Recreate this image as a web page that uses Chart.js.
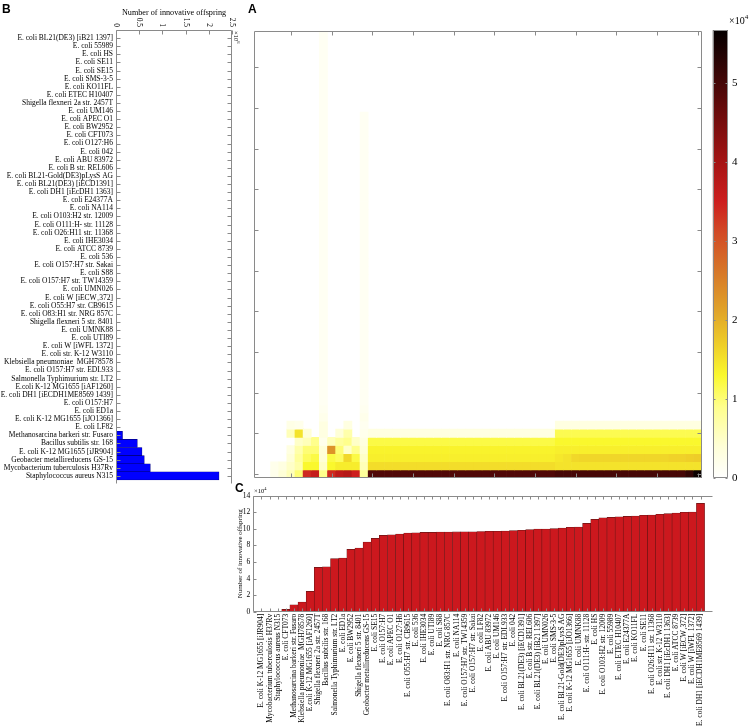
<!DOCTYPE html>
<html>
<head>
<meta charset="utf-8">
<script src="https://cdn.jsdelivr.net/npm/chart.js@4.4.1/dist/chart.umd.min.js"></script>
<style>
	html, body { margin: 0; padding: 0; background: #fff; }
	#wrap { position: relative; width: 756px; height: 728px; overflow: hidden; background: #fff; }
	#wrap canvas { position: absolute; left: 0; top: 0; }
</style>
</head>
<body>
<div id="wrap">
	<canvas id="panel-b" width="756" height="728"></canvas>
	<canvas id="panel-a" width="756" height="728"></canvas>
	<canvas id="colorbar" width="756" height="728"></canvas>
	<canvas id="panel-c" width="756" height="728"></canvas>
</div>
<script>
// ---- panel B: organisms (top to bottom) and offspring count (x10^6)
const orgNamesB = [
	'E. coli BL21(DE3) [iB21 1397]', 'E. coli 55989', 'E. coli HS', 'E. coli SE11', 'E. coli SE15',
	'E. coli SMS-3-5', 'E. coli KO11FL', 'E. coli ETEC H10407', 'Shigella flexneri 2a str. 2457T', 'E. coli UM146',
	'E. coli APEC O1', 'E. coli BW2952', 'E. coli CFT073', 'E. coli O127:H6', 'E. coli 042',
	'E. coli ABU 83972', 'E. coli B str. REL606', 'E. coli BL21-Gold(DE3)pLysS AG', 'E. coli BL21(DE3) [iECD1391]', 'E. coli DH1 [iEcDH1 1363]',
	'E. coli E24377A', 'E. coli NA114', 'E. coli O103:H2 str. 12009', 'E. coli O111:H- str. 11128', 'E. coli O26:H11 str. 11368',
	'E. coli IHE3034', 'E. coli ATCC 8739', 'E. coli 536', 'E. coli O157:H7 str. Sakai', 'E. coli S88',
	'E. coli O157:H7 str. TW14359', 'E. coli UMN026', 'E. coli W [iECW\u2081372]', 'E. coli O55:H7 str. CB9615', 'E. coli O83:H1 str. NRG 857C',
	'Shigella flexneri 5 str. 8401', 'E. coli UMNK88', 'E. coli UTI89', 'E. coli W [iWFL 1372]', 'E. coli str. K-12 W3110',
	'Klebsiella pneumoniae  MGH78578', 'E. coli O157:H7 str. EDL933', 'Salmonella Typhimurium str. LT2', 'E.coli K-12 MG1655 [iAF1260]', 'E. coli DH1 [iECDH1ME8569 1439]',
	'E. coli O157:H7', 'E. coli ED1a', 'E. coli K-12 MG1655 [iJO1366]', 'E. coli LF82', 'Methanosarcina barkeri str. Fusaro',
	'Bacillus subtilis str. 168', 'E. coli K-12 MG1655 [iJR904]', 'Geobacter metallireducens GS-15', 'Mycobacterium tuberculosis H37Rv', 'Staphylococcus aureus N315'
];
const offspringB = [
	0, 0, 0, 0, 0, 0, 0, 0, 0, 0,
	0, 0, 0, 0, 0, 0, 0, 0, 0, 0,
	0, 0, 0, 0, 0, 0, 0, 0, 0, 0,
	0, 0, 0, 0, 0, 0, 0, 0, 0, 0,
	0, 0, 0, 0, 0, 0, 0, 0, 0, 0.14,
	0.46, 0.56, 0.61, 0.74, 2.22
];
const bTickValues = [0, 0.5, 1, 1.5, 2, 2.5];
const bTickLabels = ['0', '0.5', '1', '1.5', '2', '2.5'];

// ---- panel C: organisms (left to right) and offspring count (x10^4)
const orgNamesC = [
	'E. coli K-12 MG1655 [iJR904]', 'Mycobacterium tuberculosis H37Rv', 'Staphylococcus aureus N315', 'E. coli CFT073', 'Methanosarcina barkeri str. Fusaro',
	'Klebsiella pneumoniae  MGH78578', 'E.coli K-12 MG1655 [iAF1260]', 'Shigella flexneri 2a str. 2457T', 'Bacillus subtilis str. 168', 'Salmonella Typhimurium str. LT2',
	'E. coli ED1a', 'E. coli BW2952', 'Shigella flexneri 5 str. 8401', 'Geobacter metallireducens GS-15', 'E. coli SE15',
	'E. coli O157:H7', 'E. coli APEC O1', 'E. coli O127:H6', 'E. coli O55:H7 str. CB9615', 'E. coli 536',
	'E. coli IHE3034', 'E. coli UTI89', 'E. coli S88', 'E. coli O83:H1 str. NRG 857C', 'E. coli NA114',
	'E. coli O157:H7 str. TW14359', 'E. coli O157:H7 str. Sakai', 'E. coli LF82', 'E. coli ABU 83972', 'E. coli UM146',
	'E. coli O157:H7 str. EDL933', 'E. coli 042', 'E. coli BL21(DE3) [iECD1391]', 'E. coli B str. REL606', 'E. coli BL21(DE3) [iB21 1397]',
	'E. coli UMN026', 'E. coli SMS-3-5', 'E. coli BL21-Gold(DE3)pLysS AG', 'E. coli K-12 MG1655 [iJO1366]', 'E. coli UMNK88',
	'E. coli O111:H- str. 11128', 'E. coli HS', 'E. coli O103:H2 str. 12009', 'E. coli 55989', 'E. coli ETEC H10407',
	'E. coli E24377A', 'E. coli KO11FL', 'E. coli SE11', 'E. coli O26:H11 str. 11368', 'E. coli str. K-12 W3110',
	'E. coli DH1 [iEcDH1 1363]', 'E. coli ATCC 8739', 'E. coli W [iECW\u2081372]', 'E. coli W [iWFL 1372]', 'E. coli DH1 [iECDH1ME8569 1439]'
];
const offspringC = [
	0, 0, 0, 0.28, 0.84, 1.17, 2.45, 5.35, 5.43, 6.4,
	6.48, 7.52, 7.68, 8.41, 8.85, 9.21, 9.29, 9.37, 9.49, 9.53,
	9.57, 9.57, 9.61, 9.61, 9.63, 9.65, 9.65, 9.67, 9.7, 9.7,
	9.74, 9.78, 9.82, 9.9, 9.98, 9.98, 10.02, 10.1, 10.18, 10.22,
	10.66, 11.14, 11.34, 11.38, 11.46, 11.5, 11.55, 11.63, 11.67, 11.75,
	11.83, 11.91, 11.99, 12.03, 13.07
];
const cTickValues = [0, 2, 4, 6, 8, 10, 12, 14];

// ---- panel A: heat map (x10^4), columns follow orgNamesC, rows 1..55 top to bottom
const heatTicks = [5, 10, 15, 20, 25, 30, 35, 40, 45, 50, 55];
const colorbarTicks = [0, 1, 2, 3, 4, 5];
const colorbarMax = 5.67;
// faint streaks, rows 1..48
const heatStreak9 = [
	0.12, 0.12, 0.12, 0.12, 0.12, 0.12, 0.12, 0.12, 0.12, 0.12,
	0.12, 0.12, 0.12, 0.12, 0.12, 0.12, 0.12, 0.12, 0.12, 0.12,
	0.12, 0.12, 0.12, 0.12, 0.12, 0.12, 0.12, 0.12, 0.12, 0.12,
	0.12, 0.12, 0.12, 0.12, 0.12, 0.12, 0.12, 0.12, 0.12, 0.12,
	0.12, 0.12, 0.12, 0.12, 0.12, 0.12, 0.15, 0.2
];
const heatStreak14 = [
	0, 0, 0, 0, 0, 0, 0, 0, 0, 0,
	0.12, 0.12, 0.12, 0.12, 0.12, 0.12, 0.12, 0.12, 0.12, 0.12,
	0.12, 0.12, 0.12, 0.12, 0.12, 0.12, 0.12, 0.12, 0.12, 0.12,
	0.12, 0.12, 0.12, 0.12, 0.12, 0.12, 0.12, 0.12, 0.12, 0.12,
	0.12, 0.12, 0.12, 0.12, 0.12, 0.12, 0.15, 0.2
];
// bottom rows 49..55
const heatRow49 = [
	0, 0, 0, 0, 0.25, 0.2, 0, 0, 0.3, 0, 0, 0.3, 0, 0.15,
	0, 0, 0, 0, 0, 0, 0, 0, 0, 0, 0, 0, 0, 0, 0, 0, 0, 0, 0, 0, 0, 0, 0,
	0.3, 0.3, 0.3, 0.3, 0.3, 0.3, 0.3, 0.3, 0.3, 0.3, 0.3, 0.3, 0.3, 0.3, 0.3, 0.3, 0.3, 0.3
];
const heatRow50 = [
	0, 0, 0, 0, 0.6, 1.5, 0.4, 0, 0.3, 0, 0.4, 0.7, 0, 0.2,
	0.3, 0.3, 0.3, 0.3, 0.3, 0.3, 0.3, 0.3, 0.3, 0.3, 0.3, 0.3, 0.3, 0.3, 0.3, 0.3, 0.3, 0.3, 0.3, 0.3, 0.3, 0.3, 0.3,
	1.15, 1.15, 1.15, 1.15, 1.15, 1.15, 1.15, 1.15, 1.15, 1.15, 1.15, 1.15, 1.15, 1.15, 1.15, 1.15, 1.15, 1.15
];
const heatRow51 = [
	0, 0, 0, 0, 0, 0.5, 0.6, 0.9, 0.2, 0.6, 0.8, 0.9, 0.5, 0.3,
	1.2, 1.2, 1.2, 1.2, 1.2, 1.2, 1.2, 1.2, 1.2, 1.2, 1.2, 1.2, 1.2, 1.2, 1.2, 1.2, 1.2, 1.2, 1.2, 1.2, 1.2, 1.2, 1.2,
	1.3, 1.3, 1.3, 1.3, 1.3, 1.3, 1.3, 1.3, 1.3, 1.3, 1.3, 1.3, 1.3, 1.3, 1.3, 1.3, 1.3, 1.3
];
const heatRow52 = [
	0, 0, 0, 0, 0.3, 0.7, 1.0, 1.0, 0.4, 2.3, 1.0, 0.5, 0.9, 0.4,
	1.35, 1.35, 1.35, 1.35, 1.35, 1.35, 1.35, 1.35, 1.35, 1.35, 1.35, 1.35, 1.35, 1.35, 1.35, 1.35, 1.35, 1.35, 1.35, 1.35, 1.35, 1.35, 1.35,
	1.38, 1.38, 1.38, 1.38, 1.38, 1.38, 1.38, 1.38, 1.38, 1.38, 1.38, 1.38, 1.38, 1.38, 1.38, 1.38, 1.38, 1.38
];
const heatRow53 = [
	0, 0, 0, 0, 0.4, 0.8, 1.1, 1.2, 0.4, 1.2, 1.1, 1.6, 1.2, 0.5,
	1.38, 1.38, 1.38, 1.38, 1.38, 1.38, 1.38, 1.38, 1.38, 1.38, 1.38, 1.38, 1.38, 1.38, 1.38, 1.38, 1.38, 1.38, 1.38, 1.38, 1.38, 1.38, 1.38,
	1.45, 1.5, 1.6, 1.62, 1.62, 1.62, 1.62, 1.62, 1.62, 1.62, 1.62, 1.62, 1.62, 1.62, 1.65, 1.65, 1.68, 1.7
];
const heatRow54 = [
	0, 0, 0.2, 0.3, 0.5, 0.7, 1.3, 1.3, 0.5, 1.3, 1.4, 1.4, 1.4, 0.6,
	1.55, 1.55, 1.55, 1.55, 1.55, 1.55, 1.55, 1.55, 1.55, 1.55, 1.55, 1.55, 1.55, 1.55, 1.55, 1.55, 1.55, 1.55, 1.55, 1.55, 1.55, 1.55, 1.55,
	1.5, 1.5, 1.5, 1.5, 1.5, 1.5, 1.5, 1.5, 1.5, 1.5, 1.5, 1.5, 1.5, 1.5, 1.5, 1.5, 1.5, 1.5
];
const heatRow55 = [
	0, 0, 0.2, 0.4, 0.6, 1.0, 3.4, 3.6, 0.9, 3.4, 3.7, 3.8, 3.5, 0.8,
	4.9, 4.9, 4.9, 4.9, 4.9, 4.9, 4.9, 4.9, 4.9, 4.9, 4.9, 4.9, 4.9, 4.9, 4.9, 4.9, 4.9, 4.9, 4.9, 4.9, 4.9, 4.9, 4.9,
	5.0, 5.0, 5.0, 5.0, 5.0, 5.0, 5.0, 5.0, 5.0, 5.0, 5.0, 5.0, 5.0, 5.0, 5.0, 5.0, 5.2, 5.6
];

// colour map: white - yellow - orange - red - black
const heatStops = [
	[0, [255, 255, 255]], [0.4, [255, 255, 215]], [0.9, [255, 255, 140]], [1.3, [250, 248, 45]],
	[1.7, [238, 205, 40]], [2.1, [225, 165, 40]], [2.6, [215, 120, 40]], [3.1, [210, 75, 38]],
	[3.5, [205, 30, 30]], [4.0, [165, 20, 20]], [4.6, [110, 12, 12]], [5.1, [60, 6, 6]], [5.67, [5, 0, 0]]
];

function heatColor(v) {
	if (v <= heatStops[0][0]) return `rgb(${heatStops[0][1].join(',')})`;
	for (let i = 1; i < heatStops.length; i++) {
		const [v1, c1] = heatStops[i];
		const [v0, c0] = heatStops[i - 1];
		if (v <= v1) {
			const t = (v - v0) / (v1 - v0);
			const c = c0.map((a, k) => Math.round(a + (c1[k] - a) * t));
			return `rgb(${c.join(',')})`;
		}
	}
	return `rgb(${heatStops[heatStops.length - 1][1].join(',')})`;
}

const heatMatrix = [];
for (let r = 0; r < 48; r++) {
	const row = new Array(55).fill(0);
	row[8] = heatStreak9[r];
	row[13] = heatStreak14[r];
	heatMatrix.push(row);
}
[heatRow49, heatRow50, heatRow51, heatRow52, heatRow53, heatRow54, heatRow55].forEach((row) => heatMatrix.push(row));

Chart.defaults.font.family = "'Liberation Serif', 'Times New Roman', serif";
Chart.defaults.color = '#000';
Chart.defaults.animation = false;

const axisGray = '#8a8a8a';
const serif = "'Liberation Serif', serif";

// MATLAB-ish box with inward ticks (and optional hand-placed rotated x labels)
const matlabAxes = {
	id: 'matlabAxes',
	afterDraw(chart, args, opts) {
		const { ctx, chartArea: a, scales } = chart;
		const len = opts.len || 4;
		ctx.save();
		ctx.strokeStyle = opts.color || axisGray;
		ctx.lineWidth = 1;
		ctx.beginPath();
		const L = Math.round(a.left) + 0.5, R = Math.round(a.right) - 0.5;
		const T = Math.round(a.top) + 0.5, B = Math.round(a.bottom) - 0.5;
		const box = opts.box || [];
		if (box.includes('top')) { ctx.moveTo(L, T); ctx.lineTo(R, T); }
		if (box.includes('bottom')) { ctx.moveTo(L, B); ctx.lineTo(R, B); }
		if (box.includes('left')) { ctx.moveTo(L, T); ctx.lineTo(L, B); }
		if (box.includes('right')) { ctx.moveTo(R, T); ctx.lineTo(R, B); }
		if (opts.xTicks) {
			opts.xTicks.values.forEach((v) => {
				const px = Math.round(scales.x.getPixelForValue(v)) + 0.5;
				if (opts.xTicks.edges.includes('top')) { ctx.moveTo(px, T); ctx.lineTo(px, T + len); }
				if (opts.xTicks.edges.includes('bottom')) { ctx.moveTo(px, B); ctx.lineTo(px, B - len); }
			});
		}
		if (opts.yTicks) {
			opts.yTicks.values.forEach((v) => {
				const py = Math.round(scales.y.getPixelForValue(v)) + 0.5;
				if (opts.yTicks.edges.includes('left')) { ctx.moveTo(L, py); ctx.lineTo(L + len, py); }
				if (opts.yTicks.edges.includes('right')) { ctx.moveTo(R, py); ctx.lineTo(R - len, py); }
			});
		}
		ctx.stroke();
		if (opts.xLabels) {
			// labels above the top edge, turned a quarter clockwise
			ctx.fillStyle = '#000';
			ctx.font = opts.xLabels.font;
			ctx.textAlign = 'right';
			ctx.textBaseline = 'middle';
			opts.xLabels.values.forEach((v, i) => {
				ctx.save();
				ctx.translate(scales.x.getPixelForValue(v), a.top - opts.xLabels.gap);
				ctx.rotate(Math.PI / 2);
				ctx.fillText(opts.xLabels.labels[i], 0, 0);
				ctx.restore();
			});
		}
		ctx.restore();
	}
};

// free text: panel letters and exponent labels
const notes = {
	id: 'notes',
	afterDraw(chart, args, opts) {
		const ctx = chart.ctx;
		(opts.items || []).forEach((n) => {
			ctx.save();
			ctx.translate(n.x, n.y);
			if (n.rotate) ctx.rotate(n.rotate);
			ctx.fillStyle = '#000';
			ctx.textBaseline = 'alphabetic';
			ctx.textAlign = 'left';
			let x = 0;
			n.parts.forEach((p) => {
				ctx.font = p.font;
				ctx.fillText(p.text, x, p.dy || 0);
				x += ctx.measureText(p.text).width;
			});
			ctx.restore();
		});
	}
};

const noLegend = { legend: { display: false }, tooltip: { enabled: false } };
const letterFont = "bold 12px 'Liberation Sans', Arial, sans-serif";

// ---- panel B
new Chart(document.getElementById('panel-b'), {
	type: 'bar',
	data: {
		datasets: [{
			data: offspringB.map((v, i) => ({ x: v, y: i + 1 })),
			backgroundColor: '#0000ff',
			borderColor: '#000080',
			borderWidth: 0.6,
			barPercentage: 1,
			categoryPercentage: 1,
		}]
	},
	options: {
		indexAxis: 'y',
		responsive: false,
		layout: { padding: { left: 0, top: 0, right: 524, bottom: 244 } },
		scales: {
			x: {
				type: 'linear',
				position: 'top',
				min: 0,
				max: 2.5,
				afterBuildTicks: (s) => { s.ticks = bTickValues.map((v) => ({ value: v })); },
				afterFit: (s) => { s.height = 30; },
				ticks: { display: false },
				grid: { display: false, drawTicks: false },
				border: { display: false },
				title: { display: true, text: 'Number of innovative offspring', font: { size: 8.2 }, padding: { top: 8, bottom: 0 } },
			},
			y: {
				type: 'linear',
				offset: false,
				min: 0,
				max: 56,
				reverse: true,
				afterBuildTicks: (s) => { s.ticks = orgNamesB.map((n, i) => ({ value: i + 1 })); },
				afterFit: (s) => { s.width = 116; },
				ticks: { callback: (v, i) => orgNamesB[i], padding: 3, font: { size: 7.5 }, autoSkip: false },
				grid: { display: false, drawTicks: false },
				border: { display: false },
			}
		},
		plugins: {
			...noLegend,
			matlabAxes: {
				box: ['top', 'left', 'right'],
				len: 4,
				xTicks: { values: bTickValues, edges: ['top'] },
				yTicks: { values: orgNamesB.map((n, i) => i + 1), edges: ['left', 'right'] },
				xLabels: { values: bTickValues, labels: bTickLabels, font: `7.5px ${serif}`, gap: 3 },
			},
			notes: {
				items: [
					{ x: 2, y: 13, parts: [{ text: 'B', font: letterFont }] },
					{ x: 248, y: 13, parts: [{ text: 'A', font: letterFont }] },
					{ x: 235, y: 492, parts: [{ text: 'C', font: letterFont }] },
					{ x: 234, y: 31, rotate: Math.PI / 2, parts: [{ text: '\u00d710', font: `6.5px ${serif}` }, { text: '6', font: `4.5px ${serif}`, dy: -3 }] },
				]
			}
		}
	},
	plugins: [matlabAxes, notes]
});

// ---- panel A (heat map as floating bars)
new Chart(document.getElementById('panel-a'), {
	type: 'bar',
	data: {
		datasets: heatMatrix.map((row, r) => ({
			data: row.map((v, c) => ({ x: c + 1, y: [r + 0.5, r + 1.5], v: v })).filter((p) => p.v > 0),
			backgroundColor: (ctx) => heatColor(ctx.raw ? ctx.raw.v : 0),
			borderWidth: 0,
			barPercentage: 1,
			categoryPercentage: 1,
			grouped: false,
		}))
	},
	options: {
		responsive: false,
		layout: { padding: { left: 254.3, top: 30.7, right: 54.3, bottom: 250 } },
		scales: {
			x: { type: 'linear', offset: false, min: 0.5, max: 55.5, display: false },
			y: { type: 'linear', min: 0.5, max: 55.5, reverse: true, display: false },
		},
		plugins: {
			...noLegend,
			matlabAxes: {
				box: ['top', 'bottom', 'left', 'right'],
				len: 4,
				xTicks: { values: heatTicks, edges: ['top', 'bottom'] },
				yTicks: { values: heatTicks, edges: ['left', 'right'] },
			}
		}
	},
	plugins: [matlabAxes]
});

// ---- colour bar
new Chart(document.getElementById('colorbar'), {
	type: 'bar',
	data: {
		labels: ['scale'],
		datasets: [{
			data: [[0, colorbarMax]],
			backgroundColor: (ctx) => {
				const chart = ctx.chart;
				if (!chart.chartArea || !chart.scales.y) return '#fff';
				const ys = chart.scales.y;
				const g = chart.ctx.createLinearGradient(0, ys.getPixelForValue(0), 0, ys.getPixelForValue(colorbarMax));
				heatStops.forEach(([v]) => g.addColorStop(v / colorbarMax, heatColor(v)));
				return g;
			},
			borderWidth: 0,
			barPercentage: 1,
			categoryPercentage: 1,
		}]
	},
	options: {
		responsive: false,
		layout: { padding: { left: 712.7, top: 30.3, right: 0, bottom: 250 } },
		scales: {
			x: { display: false },
			y: {
				position: 'right',
				min: 0,
				max: colorbarMax,
				afterBuildTicks: (s) => { s.ticks = colorbarTicks.map((v) => ({ value: v })); },
				afterFit: (s) => { s.width = 28; },
				ticks: { padding: 4, font: { size: 11 } },
				grid: { display: false, drawTicks: false },
				border: { display: false },
			}
		},
		plugins: {
			...noLegend,
			matlabAxes: {
				box: ['top', 'bottom', 'left', 'right'],
				len: 2,
				yTicks: { values: colorbarTicks, edges: ['left', 'right'] },
			},
			notes: {
				items: [
					{ x: 729, y: 24, parts: [{ text: '\u00d710', font: `10px ${serif}` }, { text: '4', font: `7px ${serif}`, dy: -5 }] },
				]
			}
		}
	},
	plugins: [matlabAxes, notes]
});

// ---- panel C
new Chart(document.getElementById('panel-c'), {
	type: 'bar',
	data: {
		datasets: [{
			data: offspringC.map((v, i) => ({ x: i + 1, y: v })),
			backgroundColor: '#cc181e',
			borderColor: '#6a1414',
			borderWidth: 0.6,
			barPercentage: 1,
			categoryPercentage: 1,
		}]
	},
	options: {
		responsive: false,
		layout: { padding: { left: 236, top: 495.7, right: 43.3, bottom: 0 } },
		scales: {
			x: {
				type: 'linear',
				offset: false,
				min: 0,
				max: 56.5,
				afterBuildTicks: (s) => { s.ticks = orgNamesC.map((n, i) => ({ value: i + 1 })); },
				afterFit: (s) => { s.height = 116.3; },
				ticks: { callback: (v, i) => orgNamesC[i], minRotation: 90, maxRotation: 90, padding: 2, font: { size: 7.5 }, autoSkip: false },
				grid: { display: false, drawTicks: false },
				border: { display: false },
			},
			y: {
				type: 'linear',
				min: 0,
				max: 14,
				afterBuildTicks: (s) => { s.ticks = cTickValues.map((v) => ({ value: v })); },
				afterFit: (s) => { s.width = 17.3; },
				ticks: { padding: 3, font: { size: 7.5 } },
				grid: { display: false, drawTicks: false },
				border: { display: false },
				title: { display: true, text: 'Number of innovative offspring', font: { size: 7 }, padding: { top: 0, bottom: 0 } },
			}
		},
		plugins: {
			...noLegend,
			matlabAxes: {
				box: ['top', 'bottom', 'left'],
				len: 3,
				xTicks: { values: orgNamesC.map((n, i) => i + 1), edges: ['top', 'bottom'] },
				yTicks: { values: cTickValues, edges: ['left'] },
			},
			notes: {
				items: [
					{ x: 254, y: 493, parts: [{ text: '\u00d710', font: `6.5px ${serif}` }, { text: '4', font: `4.5px ${serif}`, dy: -3 }] },
				]
			}
		}
	},
	plugins: [matlabAxes, notes]
});
</script>
</body>
</html>
